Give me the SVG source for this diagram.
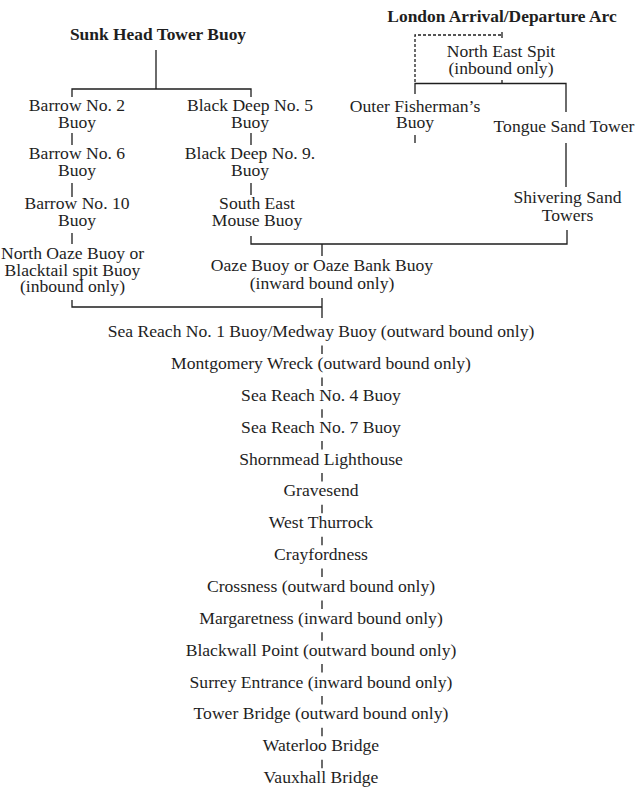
<svg xmlns="http://www.w3.org/2000/svg" width="638" height="789" viewBox="0 0 638 789">
<style>
text{font-family:"Liberation Serif","Times New Roman",serif;font-size:17.6px;fill:#1e1e1e;text-anchor:middle}
.b{font-weight:bold;font-size:17.4px}
.c{fill:none;stroke:#1e1e1e;stroke-width:1.3}
.d{stroke-dasharray:3 2}
</style>
<rect width="638" height="789" fill="#fff"/>
<g id="connectors">
<path class="c" d="M156 50V89M72 97V89H251V97"/>
<path class="c" d="M72 133V145M72 183V197M72 233V244M72 300V307H322M322 298V318"/>
<path class="c" d="M251 133V145M251 183V195M251 236V244H567V230M322 244V256"/>
<path class="c d" d="M415 82V35H502"/>
<path class="c" d="M502 32V38M502 80V83.5M415 94V83.5H566V112M415 135V143M566 143V187"/>
<path class="c" d="M322 345.5V354M322 377.4V385.9M322 409.2V417.7M322 441.1V449.6M322 473V481.5M322 504.8V513.3M322 536.7V545.2M322 568.5V577M322 600.4V608.9M322 632.3V640.8M322 664.1V672.6M322 696V704.5M322 727.8V736.3M322 759.7V768.2"/>
</g>
<g id="sunk-head"><text class="b" x="158" y="40">Sunk Head Tower Buoy</text></g>
<g id="london-arc"><text class="b" x="502" y="22">London Arrival/Departure Arc</text></g>
<g id="barrow-2"><text x="77" y="111">Barrow No. 2</text><text x="77" y="128">Buoy</text></g>
<g id="barrow-6"><text x="77" y="159">Barrow No. 6</text><text x="77" y="176">Buoy</text></g>
<g id="barrow-10"><text x="77" y="209">Barrow No. 10</text><text x="77" y="226">Buoy</text></g>
<g id="north-oaze"><text x="72.5" y="259">North Oaze Buoy or</text><text x="72.5" y="276">Blacktail spit Buoy</text><text x="72.5" y="292">(inbound only)</text></g>
<g id="black-deep-5"><text x="250" y="111">Black Deep No. 5</text><text x="250" y="128">Buoy</text></g>
<g id="black-deep-9"><text x="250" y="159">Black Deep No. 9.</text><text x="250" y="176">Buoy</text></g>
<g id="south-east-mouse"><text x="257" y="209">South East</text><text x="257" y="226">Mouse Buoy</text></g>
<g id="north-east-spit"><text x="501" y="57">North East Spit</text><text x="501" y="74">(inbound only)</text></g>
<g id="outer-fisherman"><text x="415" y="112">Outer Fisherman’s</text><text x="415" y="128">Buoy</text></g>
<g id="tongue-sand"><text x="564" y="132">Tongue Sand Tower</text></g>
<g id="shivering-sand"><text x="567.5" y="203">Shivering Sand</text><text x="567.5" y="221">Towers</text></g>
<g id="oaze"><text x="322" y="271">Oaze Buoy or Oaze Bank Buoy</text><text x="322" y="289">(inward bound only)</text></g>
<g id="sea-reach-1"><text x="321" y="337">Sea Reach No. 1 Buoy/Medway Buoy (outward bound only)</text></g>
<g id="montgomery"><text x="321" y="368.9">Montgomery Wreck (outward bound only)</text></g>
<g id="sea-reach-4"><text x="321" y="400.7">Sea Reach No. 4 Buoy</text></g>
<g id="sea-reach-7"><text x="321" y="432.6">Sea Reach No. 7 Buoy</text></g>
<g id="shornmead"><text x="321" y="464.5">Shornmead Lighthouse</text></g>
<g id="gravesend"><text x="321" y="496.3">Gravesend</text></g>
<g id="west-thurrock"><text x="321" y="528.2">West Thurrock</text></g>
<g id="crayfordness"><text x="321" y="560">Crayfordness</text></g>
<g id="crossness"><text x="321" y="591.9">Crossness (outward bound only)</text></g>
<g id="margaretness"><text x="321" y="623.8">Margaretness (inward bound only)</text></g>
<g id="blackwall"><text x="321" y="655.6">Blackwall Point (outward bound only)</text></g>
<g id="surrey"><text x="321" y="687.5">Surrey Entrance (inward bound only)</text></g>
<g id="tower-bridge"><text x="321" y="719.3">Tower Bridge (outward bound only)</text></g>
<g id="waterloo"><text x="321" y="751.2">Waterloo Bridge</text></g>
<g id="vauxhall"><text x="321" y="783">Vauxhall Bridge</text></g>
</svg>
